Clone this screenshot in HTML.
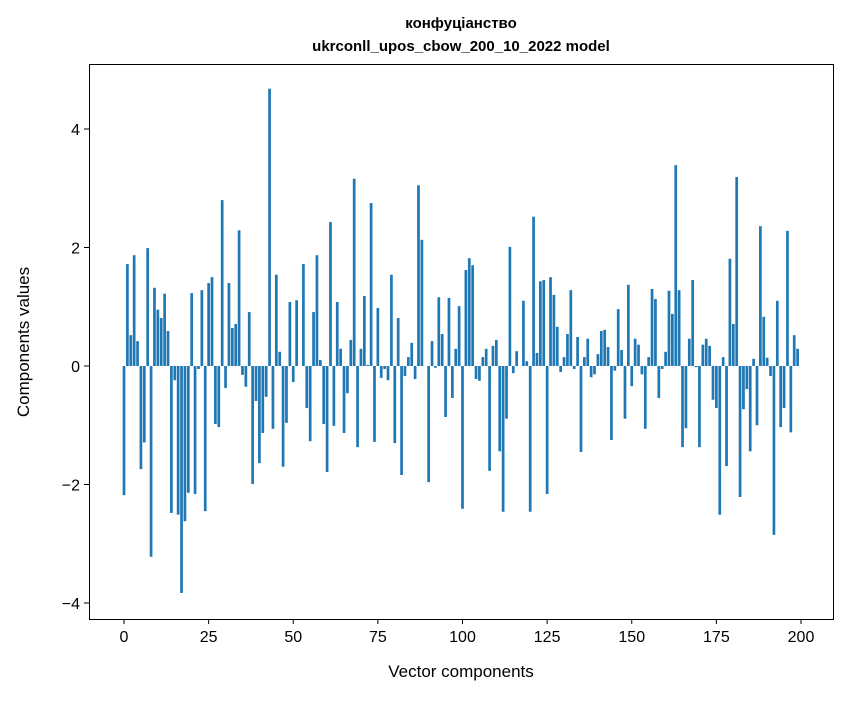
<!DOCTYPE html>
<html><head><meta charset="utf-8"><style>
body{margin:0;background:#fff;font-family:"Liberation Sans","DejaVu Sans",sans-serif}
</style></head><body>
<svg id="chart" width="847" height="696" xmlns="http://www.w3.org/2000/svg" font-family="Liberation Sans, DejaVu Sans, sans-serif">
<rect width="847" height="696" fill="#fff"/>
<text x="461" y="28" text-anchor="middle" font-size="15" font-weight="bold">конфуціанство</text>
<text x="461" y="51" text-anchor="middle" font-size="15" font-weight="bold">ukrconll_upos_cbow_200_10_2022 model</text>
<g id="bars"></g>
<rect x="89.5" y="64.5" width="744" height="555" fill="none" stroke="#000" stroke-width="1"/>
<g id="xticks"></g>
<g id="yticks"></g>
<text x="461" y="677" text-anchor="middle" font-size="17">Vector components</text>
<text transform="translate(29,342) rotate(-90)" text-anchor="middle" font-size="17">Components values</text>
</svg>
<script>
const values = [-2.18,1.72,0.52,1.87,0.42,-1.74,-1.29,1.99,-3.22,1.32,
0.95,0.81,1.22,0.59,-2.48,-0.24,-2.51,-3.83,-2.62,-2.14,
1.23,-2.16,-0.05,1.28,-2.45,1.40,1.50,-0.98,-1.03,2.80,
-0.37,1.40,0.64,0.71,2.29,-0.15,-0.35,0.91,-1.99,-0.59,
-1.64,-1.13,-0.52,4.68,-1.06,1.54,0.24,-1.70,-0.96,1.08,
-0.27,1.11,0.0,1.72,-0.71,-1.27,0.91,1.87,0.10,-0.98,
-1.79,2.43,-1.01,1.08,0.29,-1.13,-0.46,0.44,3.16,-1.37,
0.29,1.18,0.02,2.75,-1.28,0.98,-0.20,-0.05,-0.24,1.54,
-1.30,0.81,-1.84,-0.17,0.15,0.39,-0.22,3.05,2.13,0.0,
-1.96,0.42,-0.03,1.16,0.54,-0.86,1.15,-0.54,0.29,1.01,
-2.41,1.62,1.82,1.70,-0.22,-0.25,0.15,0.29,-1.77,0.34,
0.44,-1.44,-2.46,-0.89,2.01,-0.12,0.25,0.0,1.10,0.08,
-2.46,2.52,0.22,1.43,1.45,-2.16,1.50,1.20,0.66,-0.10,
0.15,0.54,1.28,-0.05,0.49,-1.45,0.15,0.46,-0.19,-0.14,
0.20,0.59,0.61,0.32,-1.25,-0.08,0.96,0.27,-0.89,1.37,
-0.34,0.46,0.36,-0.14,-1.06,0.15,1.30,1.13,-0.54,-0.05,
0.24,1.27,0.88,3.39,1.28,-1.37,-1.05,0.46,1.45,-0.02,
-1.37,0.36,0.46,0.34,-0.57,-0.71,-2.51,0.15,-1.69,1.81,
0.71,3.19,-2.21,-0.73,-0.39,-1.44,0.12,-1.00,2.36,0.83,
0.14,-0.17,-2.85,1.10,-1.03,-0.71,2.28,-1.12,0.52,0.29];
const xTicks = [0,25,50,75,100,125,150,175,200];
const yTicks = [-4,-2,0,2,4];
const NS="http://www.w3.org/2000/svg";
function xs(v){return 124+v*3.385;}
function ys(v){return 366-v*59.25;}
const bars=document.getElementById('bars');
values.forEach((v,i)=>{
 const r=document.createElementNS(NS,'rect');
 
 
 const y0=ys(0), y1=ys(v);
 r.setAttribute('x',xs(i-0.4));
 r.setAttribute('width',3.385*0.8);
 r.setAttribute('y',Math.min(y0,y1));
 r.setAttribute('height',Math.abs(y1-y0));
 r.setAttribute('fill','#1f77b4');
 bars.appendChild(r);
});
const xg=document.getElementById('xticks');
xTicks.forEach(t=>{
 const l=document.createElementNS(NS,'line');
 
 
 l.setAttribute('x1',xs(t));l.setAttribute('x2',xs(t));l.setAttribute('y1',619);l.setAttribute('y2',624);l.setAttribute('stroke','#000');
 xg.appendChild(l);
 const tx=document.createElementNS(NS,'text');
 
 
 tx.setAttribute('x',xs(t));tx.setAttribute('y',642);tx.setAttribute('text-anchor','middle');tx.setAttribute('font-size','16');
 tx.textContent=t;xg.appendChild(tx);
});
const yg=document.getElementById('yticks');
yTicks.forEach(t=>{
 const l=document.createElementNS(NS,'line');
 
 
 l.setAttribute('x1',84);l.setAttribute('x2',89);l.setAttribute('y1',ys(t));l.setAttribute('y2',ys(t));l.setAttribute('stroke','#000');
 yg.appendChild(l);
 const tx=document.createElementNS(NS,'text');
 
 
 tx.setAttribute('x',80);tx.setAttribute('y',ys(t)+6);tx.setAttribute('text-anchor','end');tx.setAttribute('font-size','16');
 tx.textContent=t<0?'\u2212'+Math.abs(t):String(t);yg.appendChild(tx);
});
</script>
</body></html>
